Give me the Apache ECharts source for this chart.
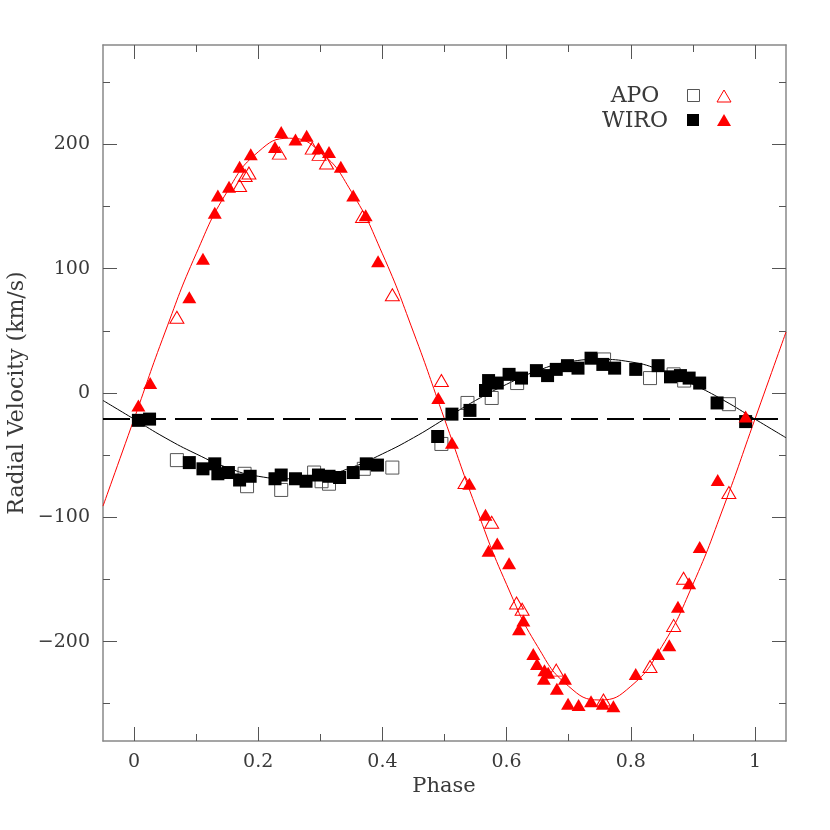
<!DOCTYPE html>
<html>
<head>
<meta charset="utf-8">
<script src="https://cdn.jsdelivr.net/npm/echarts@6/dist/echarts.min.js"></script>
<style>
  html, body { margin: 0; padding: 0; background: #fff; }
  #chart { width: 830px; height: 830px; }
</style>
</head>
<body>
<div id="chart"></div>
<script>
// observed radial velocities, [phase, km/s]
var apoPrimary = [
  [0.069, 61], [0.170, 167], [0.179, 175], [0.185, 177], [0.234, 193],
  [0.287, 197], [0.298, 192], [0.310, 185], [0.368, 142], [0.416, 79],
  [0.495, 10], [0.533, -72], [0.576, -104], [0.616, -169], [0.625, -174],
  [0.680, -223], [0.756, -247], [0.831, -220], [0.869, -187], [0.885, -149],
  [0.958, -80]
];
var wiroPrimary = [
  [0.007, -10], [0.026, 8], [0.089, 77], [0.111, 108], [0.130, 145],
  [0.135, 159], [0.153, 166], [0.170, 182], [0.188, 192], [0.227, 198],
  [0.237, 210], [0.260, 204], [0.278, 207], [0.297, 197], [0.314, 194],
  [0.333, 182], [0.353, 159], [0.373, 143], [0.393, 106],
  [0.490, -4], [0.512, -40], [0.540, -73], [0.566, -98], [0.571, -127],
  [0.585, -121], [0.604, -137], [0.620, -190], [0.627, -183], [0.643, -210],
  [0.649, -218], [0.661, -223], [0.667, -225], [0.660, -230], [0.681, -238],
  [0.694, -230], [0.699, -250], [0.716, -251], [0.736, -248], [0.755, -250],
  [0.772, -252], [0.808, -226], [0.844, -210], [0.862, -203], [0.876, -172],
  [0.894, -153], [0.911, -124], [0.940, -70], [0.985, -19]
];
var apoSecondary = [
  [0.069, -54], [0.178, -65], [0.182, -75], [0.237, -78], [0.290, -64],
  [0.302, -71], [0.314, -73], [0.370, -61], [0.416, -60], [0.495, -41],
  [0.537, -8], [0.576, -4], [0.617, 8], [0.757, 27], [0.831, 12],
  [0.869, 15], [0.886, 10], [0.958, -9]
];
var wiroSecondary = [
  [0.007, -22], [0.025, -21], [0.089, -56], [0.111, -61], [0.130, -57],
  [0.135, -65], [0.152, -64], [0.170, -70], [0.187, -67], [0.227, -69],
  [0.237, -66], [0.260, -69], [0.277, -71], [0.297, -66], [0.314, -67],
  [0.331, -68], [0.353, -64], [0.374, -57], [0.392, -58],
  [0.489, -35], [0.512, -17], [0.541, -14], [0.566, 2], [0.571, 10],
  [0.585, 8], [0.604, 15], [0.624, 12], [0.648, 18], [0.666, 14],
  [0.680, 19], [0.698, 22], [0.715, 20], [0.736, 28], [0.755, 23],
  [0.774, 20], [0.808, 19], [0.844, 22], [0.864, 13], [0.880, 14],
  [0.894, 12], [0.911, 8], [0.939, -8], [0.985, -23]
];

// fitted orbit curves every 0.05 in phase
var curvePhase = [-0.05, 0, 0.05, 0.1, 0.15, 0.2, 0.25, 0.3, 0.35, 0.4, 0.45, 0.5,
  0.55, 0.6, 0.65, 0.7, 0.75, 0.8, 0.85, 0.9, 0.95, 1, 1.05];
var primaryCurve = [-91, -21, 49, 112, 162, 194, 205, 194, 162, 112, 49, -21,
  -91, -154, -204, -236, -247, -236, -204, -154, -91, -21, 49];
var secondaryCurve = [-6, -21, -36, -49, -60, -67, -69, -67, -60, -49, -36, -21,
  -6, 7, 18, 25, 27, 25, 18, 7, -6, -21, -36];
var gammaVel = -21;

var xMajor = [0, 0.2, 0.4, 0.6, 0.8, 1];
var xMinor = [0.1, 0.3, 0.5, 0.7, 0.9];
var yMajor = [-200, -100, 0, 100, 200];
var yMinor = [-250, -150, -50, 50, 150, 250];

var FONT = 'DejaVu Serif';
var TXT = '#3a3a3a';

function pairs(xs, ys) {
  return xs.map(function (x, i) { return [x, ys[i]]; });
}
function minus(v) {
  return String(v).replace('-', '\u2212');
}

function xAxisDef(pos, ticks, len, withLine, withLabel) {
  return {
    type: 'value', position: pos, min: -0.05, max: 1.05,
    axisLine: { show: withLine, onZero: false, lineStyle: { color: '#888', width: 1.5 } },
    axisTick: { show: true, inside: true, length: len, customValues: ticks,
      lineStyle: { color: '#555', width: 1 } },
    axisLabel: { show: withLabel, customValues: xMajor, margin: 12,
      fontFamily: FONT, fontSize: 19, color: TXT, formatter: function (v) { return String(v); } },
    splitLine: { show: false }
  };
}
function yAxisDef(pos, ticks, len, withLine, withLabel) {
  return {
    type: 'value', position: pos, min: -280, max: 280,
    axisLine: { show: withLine, onZero: false, lineStyle: { color: '#888', width: 1.5 } },
    axisTick: { show: true, inside: true, length: len, customValues: ticks,
      lineStyle: { color: '#555', width: 1 } },
    axisLabel: { show: withLabel, customValues: yMajor, margin: 13,
      fontFamily: FONT, fontSize: 19, color: TXT, formatter: minus },
    splitLine: { show: false }
  };
}

var chart = echarts.init(document.getElementById('chart'));
var option = {
  backgroundColor: '#fff',
  animation: false,
  grid: { left: 103, top: 45, width: 683, height: 696 },
  xAxis: [
    xAxisDef('bottom', xMajor, 14, true, true),
    xAxisDef('bottom', xMinor, 7, false, false),
    xAxisDef('top', xMajor, 14, true, false),
    xAxisDef('top', xMinor, 7, false, false)
  ],
  yAxis: [
    yAxisDef('left', yMajor, 14, true, true),
    yAxisDef('left', yMinor, 7, false, false),
    yAxisDef('right', yMajor, 14, true, false),
    yAxisDef('right', yMinor, 7, false, false)
  ],
  graphic: [
    { type: 'text', x: 444, y: 787, style: { text: 'Phase', font: '21px "DejaVu Serif"',
      fill: TXT, textAlign: 'center', textVerticalAlign: 'middle' } },
    { type: 'text', x: 17, y: 393, rotation: Math.PI / 2, style: { text: 'Radial Velocity (km/s)',
      font: '22px "DejaVu Serif"', fill: TXT, textAlign: 'center', textVerticalAlign: 'middle' } },
    { type: 'text', x: 635, y: 96, style: { text: 'APO', font: '22px "DejaVu Serif"',
      fill: TXT, textAlign: 'center', textVerticalAlign: 'middle' } },
    { type: 'text', x: 635, y: 121, style: { text: 'WIRO', font: '22px "DejaVu Serif"',
      fill: TXT, textAlign: 'center', textVerticalAlign: 'middle' } },
    { type: 'rect', shape: { x: 687.5, y: 89.5, width: 12, height: 12 },
      style: { fill: 'none', stroke: '#555', lineWidth: 1 } },
    { type: 'rect', shape: { x: 687, y: 114, width: 12, height: 12 },
      style: { fill: '#000' } },
    { type: 'polygon', shape: { points: [[724, 90], [731, 102], [717, 102]] },
      style: { fill: 'none', stroke: '#f00', lineWidth: 1 } },
    { type: 'polygon', shape: { points: [[724, 114], [731, 126], [717, 126]] },
      style: { fill: '#f00' } }
  ],
  series: [
    {
      name: 'secondary fit', type: 'line', smooth: 0.5, showSymbol: false,
      data: pairs(curvePhase, secondaryCurve),
      lineStyle: { color: '#000', width: 1 }, z: 1
    },
    {
      name: 'primary fit', type: 'line', smooth: 0.5, showSymbol: false,
      data: pairs(curvePhase, primaryCurve),
      lineStyle: { color: '#f00', width: 1 }, z: 1
    },
    {
      name: 'gamma', type: 'line', showSymbol: false,
      data: [[-0.05, gammaVel], [1.05, gammaVel]],
      lineStyle: { color: '#000', width: 2, type: [27, 9] }, z: 1
    },
    {
      name: 'APO secondary', type: 'scatter', symbol: 'rect', symbolSize: 13,
      data: apoSecondary,
      itemStyle: { color: 'rgba(0,0,0,0)', borderColor: '#555', borderWidth: 1, opacity: 1 }, z: 2
    },
    {
      name: 'WIRO secondary', type: 'scatter', symbol: 'rect', symbolSize: 13,
      data: wiroSecondary,
      itemStyle: { color: '#000', opacity: 1 }, z: 3
    },
    {
      name: 'APO primary', type: 'scatter', symbol: 'triangle', symbolSize: [14, 12],
      data: apoPrimary,
      itemStyle: { color: 'rgba(0,0,0,0)', borderColor: '#f00', borderWidth: 1, opacity: 1 }, z: 4
    },
    {
      name: 'WIRO primary', type: 'scatter', symbol: 'triangle', symbolSize: [14, 12],
      data: wiroPrimary,
      itemStyle: { color: '#f00', opacity: 1 }, z: 5
    }
  ]
};
chart.setOption(option);
</script>
</body>
</html>
